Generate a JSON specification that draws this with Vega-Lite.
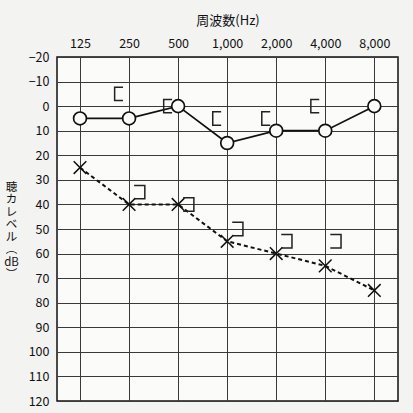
{
  "$schema": "https://vega.github.io/schema/vega-lite/v6.json",
  "autosize": "none",
  "width": 341,
  "height": 344,
  "padding": {"left": 57, "top": 57, "right": 15, "bottom": 12},
  "background": "#f3f3f1",
  "config": {
    "view": {"stroke": "#111", "strokeWidth": 1.5, "fill": "#fbfbfa"},
    "font": "Noto Sans CJK JP",
    "axis": {"labelFont": "Noto Sans CJK JP", "titleFont": "Noto Sans CJK JP", "labelColor": "#111", "titleColor": "#111", "titleFontWeight": "normal", "labelFontSize": 12.5, "titleFontSize": 13}
  },
  "data": {
    "values": [
      {"freq": 125, "db": 5, "type": "AC_R"},
      {"freq": 250, "db": 5, "type": "AC_R"},
      {"freq": 500, "db": 0, "type": "AC_R"},
      {"freq": 1000, "db": 15, "type": "AC_R"},
      {"freq": 2000, "db": 10, "type": "AC_R"},
      {"freq": 4000, "db": 10, "type": "AC_R"},
      {"freq": 8000, "db": 0, "type": "AC_R"},
      {"freq": 125, "db": 25, "type": "AC_L"},
      {"freq": 250, "db": 40, "type": "AC_L"},
      {"freq": 500, "db": 40, "type": "AC_L"},
      {"freq": 1000, "db": 55, "type": "AC_L"},
      {"freq": 2000, "db": 60, "type": "AC_L"},
      {"freq": 4000, "db": 65, "type": "AC_L"},
      {"freq": 8000, "db": 75, "type": "AC_L"},
      {"freq": 250, "db": -5, "type": "BC_R"},
      {"freq": 500, "db": 0, "type": "BC_R"},
      {"freq": 1000, "db": 5, "type": "BC_R"},
      {"freq": 2000, "db": 5, "type": "BC_R"},
      {"freq": 4000, "db": 0, "type": "BC_R"},
      {"freq": 250, "db": 35, "type": "BC_L"},
      {"freq": 500, "db": 40, "type": "BC_L"},
      {"freq": 1000, "db": 50, "type": "BC_L"},
      {"freq": 2000, "db": 55, "type": "BC_L"},
      {"freq": 4000, "db": 55, "type": "BC_L"}
    ]
  },
  "encoding": {
    "x": {
      "field": "freq", "type": "quantitative",
      "scale": {"type": "log", "base": 2, "domain": [90.3, 11180], "nice": false},
      "axis": {
        "orient": "top", "values": [125, 250, 500, 1000, 2000, 4000, 8000], "format": ",",
        "grid": true, "gridColor": "#3a3a3a", "gridWidth": 1, "ticks": false, "domain": false,
        "labelPadding": 7, "title": "周波数(Hz)", "titlePadding": 10
      }
    },
    "y": {
      "field": "db", "type": "quantitative",
      "scale": {"domain": [-20, 120], "reverse": true, "nice": false, "zero": false},
      "axis": {
        "values": [-20, -10, 0, 10, 20, 30, 40, 50, 60, 70, 80, 90, 100, 110, 120],
        "grid": true, "gridColor": "#3a3a3a", "gridWidth": 1, "ticks": false, "domain": false,
        "labelPadding": 8,
        "title": ["聴", "カ", "レ", "ベ", "ル", "︵", "dB", "︶"],
        "titleAngle": 0, "titleX": -46, "titleY": 130, "titleBaseline": "middle",
        "titleAlign": "center", "titleLineHeight": 12.5, "titleFontSize": 11.5
      }
    }
  },
  "layer": [
    {
      "transform": [{"filter": "datum.type === 'AC_R'"}],
      "mark": {"type": "line", "color": "#111", "strokeWidth": 1.7}
    },
    {
      "transform": [{"filter": "datum.type === 'AC_R'"}],
      "mark": {"type": "point", "shape": "circle", "size": 165, "filled": true, "fill": "#fbfbfa", "stroke": "#111", "strokeWidth": 1.7, "opacity": 1}
    },
    {
      "transform": [{"filter": "datum.type === 'AC_L'"}],
      "mark": {"type": "line", "color": "#111", "strokeWidth": 2, "strokeDash": [4, 3]}
    },
    {
      "transform": [{"filter": "datum.type === 'AC_L'"}],
      "mark": {"type": "point", "shape": "M-1,-1L1,1M1,-1L-1,1", "size": 160, "filled": false, "stroke": "#111", "strokeWidth": 1.5, "opacity": 1}
    },
    {
      "transform": [{"filter": "datum.type === 'BC_R'"}],
      "mark": {"type": "point", "shape": "M-0.9,-1L-2.15,-1L-2.15,1L-0.9,1", "size": 180, "filled": false, "stroke": "#222", "strokeWidth": 1.5, "opacity": 1}
    },
    {
      "transform": [{"filter": "datum.type === 'BC_L'"}],
      "mark": {"type": "point", "shape": "M0.75,-1L2.35,-1L2.35,1L0.75,1", "size": 180, "filled": false, "stroke": "#222", "strokeWidth": 1.5, "opacity": 1}
    }
  ]
}
